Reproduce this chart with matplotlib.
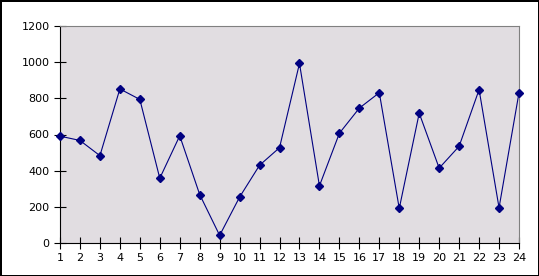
import matplotlib
matplotlib.use("Agg")
import matplotlib.pyplot as plt

# values
x_labels = list(range(1, 25))
values = [591, 567, 483, 852, 794, 358, 593, 268, 42, 254, 430, 527,
          993, 316, 607, 746, 831, 191, 718, 414, 535, 848, 195, 831]
y_ticks = [0, 200, 400, 600, 800, 1000, 1200]

fig = plt.figure(figsize=(5.39, 2.76), dpi=100,
                 edgecolor="black", linewidth=2)
ax = fig.add_axes([60 / 539, 33 / 276, 459 / 539, 217 / 276])

ax.set_facecolor("#E1DDE1")
ax.plot(x_labels, values, color="#000080", linewidth=0.8,
        marker="D", markersize=4.5, markerfacecolor="#000080",
        markeredgecolor="#000080", clip_on=False, zorder=3)

ax.set_xlim(1, 24)
ax.set_ylim(0, 1200)
ax.set_xticks(x_labels)
ax.set_yticks(y_ticks)

# plot frame: black axes on left/bottom, grey border otherwise
ax.spines["left"].set_color("black")
ax.spines["bottom"].set_color("black")
ax.spines["top"].set_color("#808080")
ax.spines["right"].set_color("#808080")
for s in ax.spines.values():
    s.set_linewidth(0.8)

ax.tick_params(axis="x", direction="inout", length=9, width=0.8,
               labelsize=8, pad=3)
ax.tick_params(axis="y", direction="inout", length=9, width=0.8,
               labelsize=8, pad=3)

fig.savefig("out.png", dpi=100)
